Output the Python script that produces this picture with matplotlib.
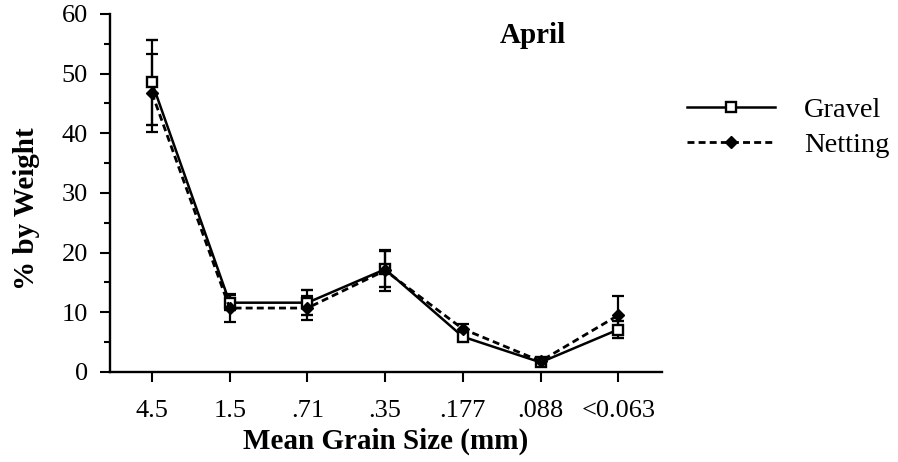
import matplotlib
matplotlib.use("Agg")
import matplotlib.pyplot as plt
from matplotlib.lines import Line2D
from matplotlib.ticker import MultipleLocator

## grain size classes (mm) on the x axis
sizes = ["4.5", "1.5", ".71", ".35", ".177", ".088", "<0.063"]

## mean % by weight and error bar half-widths
gravel = [48.5, 11.6, 11.6, 17.2, 5.9, 1.6, 7.1]
gravel_err = [7.1, 1.3, 2.1, 3.0, 0.8, 0.4, 1.5]
netting = [46.7, 10.7, 10.7, 17.0, 7.2, 1.8, 9.5]
netting_err = [6.5, 2.3, 2.0, 3.4, 0.8, 0.4, 3.2]

plt.rcParams['font.family'] = ['Liberation Serif', 'DejaVu Serif']

fig = plt.figure(figsize=(8.98, 4.62), dpi=100)
ax = fig.add_axes([0.1225, 0.195, 0.6145, 0.775])

x = list(range(len(sizes)))
dash = (0, (2.5, 1.5))

ax.errorbar(x, gravel, yerr=gravel_err, color='black', linestyle='-', linewidth=1.8,
            marker='s', markersize=7, markerfacecolor='white', markeredgecolor='black',
            markeredgewidth=1.7, elinewidth=1.6, capsize=4.5, capthick=1.6)
ax.errorbar(x, netting, yerr=netting_err, color='black', linestyle=dash, linewidth=2.0,
            marker='D', markersize=6.5, markerfacecolor='black', markeredgecolor='black',
            elinewidth=1.6, capsize=4.5, capthick=1.6)

ax.set_xlim(-0.54, 6.56)
ax.set_ylim(0, 60)
ax.set_xticks(x)
ax.set_xticklabels(sizes)
ax.yaxis.set_major_locator(MultipleLocator(10))
ax.yaxis.set_minor_locator(MultipleLocator(5))

for side in ['top', 'right']:
    ax.spines[side].set_visible(False)
for side in ['left', 'bottom']:
    ax.spines[side].set_linewidth(1.7)

ax.tick_params(axis='x', direction='out', length=7, width=1.5, labelsize=19, pad=13)
ax.tick_params(axis='y', which='major', direction='out', length=7, width=1.5, labelsize=19, pad=9)
ax.tick_params(axis='y', which='minor', direction='out', length=4, width=1.5)

ax.set_xlabel('Mean Grain Size (mm)', fontsize=21, fontweight='bold', labelpad=4)
ax.set_ylabel('% by Weight', fontsize=21, fontweight='bold')
ax.yaxis.set_label_coords(-0.127, 0.455)

ax.text(4.9, 56.3, 'April', fontsize=21, fontweight='bold', ha='center', va='center')

handles = [
    Line2D([], [], color='black', linestyle='-', linewidth=1.8, marker='s', markersize=7,
           markerfacecolor='white', markeredgecolor='black', markeredgewidth=1.7),
    Line2D([], [], color='black', linestyle=dash, linewidth=2.0, marker='D', markersize=6.5,
           markerfacecolor='black', markeredgecolor='black'),
]
fig.legend(handles, ['Gravel', 'Netting'], loc='upper left', bbox_to_anchor=(0.765, 0.789),
           frameon=False, fontsize=20.5, handlelength=3.1, handletextpad=1.0,
           labelspacing=0.32, borderpad=0, borderaxespad=0)

fig.savefig('out.png', dpi=100)
